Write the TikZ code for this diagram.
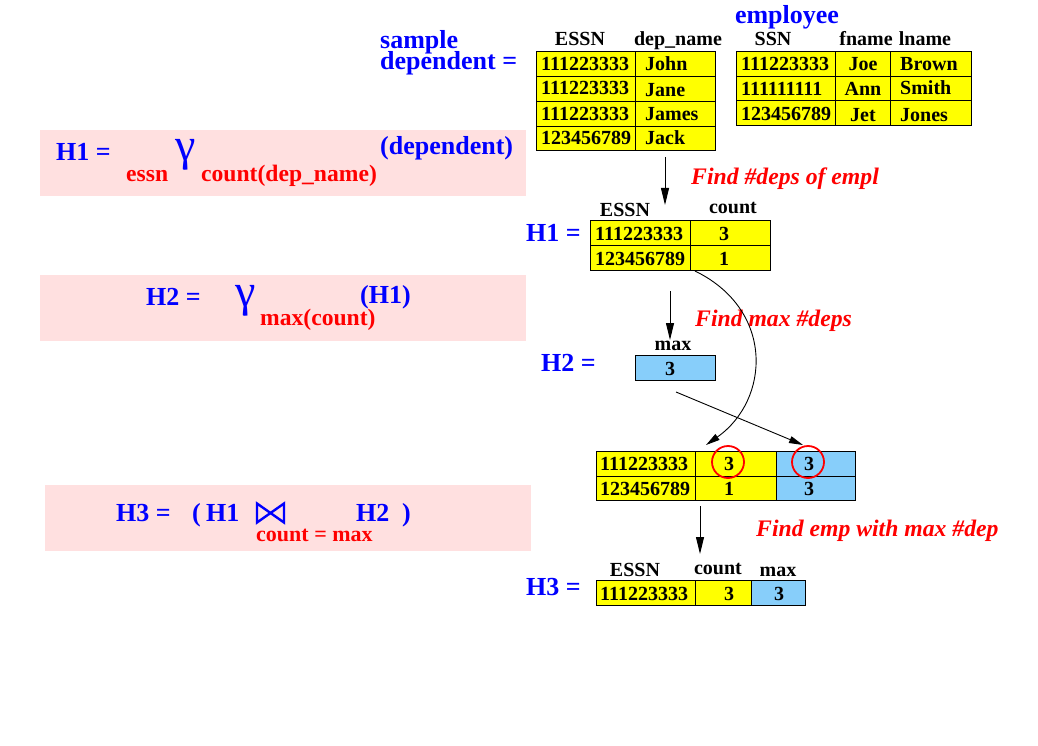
\documentclass[tikz,border=0pt]{standalone}
\usepackage{fontspec}
\setmainfont{Liberation Serif}
\usetikzlibrary{arrows.meta}
\definecolor{cellyellow}{RGB}{255,255,0}
\definecolor{cellblue}{RGB}{135,206,250}
\definecolor{boxpink}{RGB}{255,224,224}
\definecolor{txtblue}{RGB}{0,0,255}
\definecolor{txtred}{RGB}{255,0,0}
\newcommand\fsz[1]{\fontsize{#1}{#1}\selectfont}
\begin{document}
\begin{tikzpicture}[x=1pt,y=-1pt,
 cellY/.style={draw=black, line width=1pt, fill=cellyellow, inner sep=0pt, anchor=north west},
 cellB/.style={cellY, fill=cellblue},
 tab/.style={font=\fsz{20}\bfseries, inner sep=0pt},
 bl/.style={font=\fsz{26}\bfseries, text=txtblue, inner sep=0pt, anchor=base west},
 rd/.style={font=\fsz{23.6}\bfseries, text=txtred, inner sep=0pt, anchor=base west},
 note/.style={font=\fsz{23.7}\bfseries\itshape, text=txtred, inner sep=0pt, anchor=base west},
 gam/.style={font=\fsz{46}, text=txtblue, inner sep=0pt, anchor=base west},
 pinkbox/.style={fill=boxpink, draw=none, inner sep=0pt, anchor=north west},
 arr/.style={-{Triangle[length=17pt,width=8pt]}, line width=0.9pt},
 arrs/.style={-{Triangle[length=14pt,width=7pt]}, line width=0.9pt},
 ring/.style={draw=txtred, line width=1.8pt, circle, minimum size=32pt, inner sep=0pt},
 joinsym/.style={draw=txtblue, line width=2.4pt, line join=miter}
]
\useasboundingbox (0,0) rectangle (1038,746);
\fill[white] (0,0) rectangle (1038,746);

% pink boxes
\node[pinkbox, minimum width=486pt, minimum height=66pt] (p1) at (40,130) {};
\node[pinkbox, minimum width=486pt, minimum height=66pt] (p2) at (40,275) {};
\node[pinkbox, minimum width=486pt, minimum height=66pt] (p3) at (45,485) {};

% box 1
\node[bl] (b1a) at (56,161) {H1 =};
\node[rd] (b1b) at (126,181.7) {essn};
\node[gam] (b1g) at (175,161) {γ};
\node[rd] (b1c) at (201,181.7) {count(dep\_name)};
\node[bl] (b1d) at (380,155) {(dependent)};

% box 2
\node[bl] (b2a) at (146,305) {H2 =};
\node[gam] (b2g) at (235,306) {γ};
\node[rd] (b2c) at (260,325) {max(count)};
\node[bl] (b2d) at (360,303) {(H1)};

% box 3
\node[bl] (b3a) at (116,521) {H3 =};
\node[bl] (b3b) at (192,521) {(};
\node[bl] (b3c) at (206,521) {H1};
\coordinate (bt) at (270.5,513);
\draw[joinsym] ([shift={(-13.5,-9.5)}]bt) -- ([shift={(13.5,9.5)}]bt) -- ([shift={(13.5,-9.5)}]bt) -- ([shift={(-13.5,9.5)}]bt) -- cycle;
\node[bl] (b3d) at (356,521) {H2};
\node[bl] (b3e) at (402,521) {)};
\node[rd, font=\fsz{22}\bfseries] (b3f) at (256,541) {count = max};

% sample dependent
\node[bl] (sd1) at (380,49) {sample};
\node[bl] (sd2) at (380,70) {dependent =};
\node[bl, anchor=base] (emp) at (787,24) {employee};

% dependent table
\node[tab, anchor=base] (h1) at (580,45.7) {ESSN};
\node[tab, anchor=base] (h2) at (678,45.7) {dep\_name};
\node[cellY, minimum width=99pt, minimum height=25pt] (d1a) at (536,51) {};
\node[cellY, minimum width=80pt, minimum height=25pt] (d1b) at (635,51) {};
\node[cellY, minimum width=99pt, minimum height=25pt] (d2a) at (536,76) {};
\node[cellY, minimum width=80pt, minimum height=25pt] (d2b) at (635,76) {};
\node[cellY, minimum width=99pt, minimum height=25pt] (d3a) at (536,101) {};
\node[cellY, minimum width=80pt, minimum height=25pt] (d3b) at (635,101) {};
\node[cellY, minimum width=99pt, minimum height=24pt] (d4a) at (536,126) {};
\node[cellY, minimum width=80pt, minimum height=24pt] (d4b) at (635,126) {};
\node[tab, anchor=base west] (dt1a) at (541,70.7) {111223333};
\node[tab, anchor=base west] (dt1b) at (645,70.7) {John};
\node[tab, anchor=base west] (dt2a) at (541,94.5) {111223333};
\node[tab, anchor=base west] (dt2b) at (645,96.5) {Jane};
\node[tab, anchor=base west] (dt3a) at (541,120.7) {111223333};
\node[tab, anchor=base west] (dt3b) at (645,120.7) {James};
\node[tab, anchor=base west] (dt4a) at (541,144.5) {123456789};
\node[tab, anchor=base west] (dt4b) at (645,144.5) {Jack};

% employee table
\node[tab, anchor=base] (eh1) at (773,45.7) {SSN};
\node[tab, anchor=base] (eh2) at (866,45.7) {fname};
\node[tab, anchor=base] (eh3) at (925,45.7) {lname};
\node[cellY, minimum width=99pt, minimum height=25pt] (e1a) at (736,51) {};
\node[cellY, minimum width=55pt, minimum height=25pt] (e1b) at (835,51) {};
\node[cellY, minimum width=81pt, minimum height=25pt] (e1c) at (890,51) {};
\node[cellY, minimum width=99pt, minimum height=24pt] (e2a) at (736,76) {};
\node[cellY, minimum width=55pt, minimum height=24pt] (e2b) at (835,76) {};
\node[cellY, minimum width=81pt, minimum height=24pt] (e2c) at (890,76) {};
\node[cellY, minimum width=99pt, minimum height=25pt] (e3a) at (736,100) {};
\node[cellY, minimum width=55pt, minimum height=25pt] (e3b) at (835,100) {};
\node[cellY, minimum width=81pt, minimum height=25pt] (e3c) at (890,100) {};
\node[tab, anchor=base west] (et1a) at (741,70.7) {111223333};
\node[tab, anchor=base] (et1b) at (863,70.7) {Joe};
\node[tab, anchor=base west] (et1c) at (900,70.7) {Brown};
\node[tab, anchor=base west] (et2a) at (741,95.5) {111111111};
\node[tab, anchor=base] (et2b) at (863,95.5) {Ann};
\node[tab, anchor=base west] (et2c) at (900,94.3) {Smith};
\node[tab, anchor=base west] (et3a) at (741,120.7) {123456789};
\node[tab, anchor=base] (et3b) at (863,121.5) {Jet};
\node[tab, anchor=base west] (et3c) at (900,121.5) {Jones};

% H1 table
\node[bl] (lh1) at (526,241.7) {H1 =};
\node[tab, anchor=base] (g1h1) at (625,216) {ESSN};
\node[tab, anchor=base] (g1h2) at (733,214) {count};
\node[cellY, minimum width=100pt, minimum height=25pt] (g11a) at (590,220) {};
\node[cellY, minimum width=80pt, minimum height=25pt] (g11b) at (690,220) {};
\node[cellY, minimum width=100pt, minimum height=25pt] (g12a) at (590,245) {};
\node[cellY, minimum width=80pt, minimum height=25pt] (g12b) at (690,245) {};
\node[tab, anchor=base west] (gt1a) at (595,240.7) {111223333};
\node[tab, anchor=base] (gt1b) at (724,240.7) {3};
\node[tab, anchor=base west] (gt2a) at (595,265) {123456789};
\node[tab, anchor=base] (gt2b) at (724,265) {1};

% H2 table
\node[bl] (lh2) at (541,371.7) {H2 =};
\node[tab, anchor=base] (m1h) at (673,350.7) {max};
\node[cellB, minimum width=80pt, minimum height=25pt] (m1) at (635,355) {};
\node[tab, anchor=base] (mt1) at (670,375.7) {3};

% join table
\node[cellY, minimum width=99pt, minimum height=25pt] (j1a) at (596,451) {};
\node[cellY, minimum width=81pt, minimum height=25pt] (j1b) at (695,451) {};
\node[cellB, minimum width=79pt, minimum height=25pt] (j1c) at (776,451) {};
\node[cellY, minimum width=99pt, minimum height=24pt] (j2a) at (596,476) {};
\node[cellY, minimum width=81pt, minimum height=24pt] (j2b) at (695,476) {};
\node[cellB, minimum width=79pt, minimum height=24pt] (j2c) at (776,476) {};
\node[tab, anchor=base west] (jt1a) at (600,470.7) {111223333};
\node[tab, anchor=base] (jt1b) at (729,470.7) {3};
\node[tab, anchor=base] (jt1c) at (809,470.7) {3};
\node[tab, anchor=base west] (jt2a) at (600,495) {123456789};
\node[tab, anchor=base] (jt2b) at (729,495) {1};
\node[tab, anchor=base] (jt2c) at (809,495) {3};
\node[ring] (r1) at (728,462) {};
\node[ring] (r2) at (808,462) {};

% H3 table
\node[bl] (lh3) at (526,595) {H3 =};
\node[tab, anchor=base] (k1h1) at (635,576) {ESSN};
\node[tab, anchor=base] (k1h2) at (718,574) {count};
\node[tab, anchor=base] (k1h3) at (778,576) {max};
\node[cellY, minimum width=99pt, minimum height=25pt] (k1a) at (596,580) {};
\node[cellY, minimum width=56pt, minimum height=25pt] (k1b) at (695,580) {};
\node[cellB, minimum width=54pt, minimum height=25pt] (k1c) at (751,580) {};
\node[tab, anchor=base west] (kt1a) at (600,600) {111223333};
\node[tab, anchor=base] (kt1b) at (729,600) {3};
\node[tab, anchor=base] (kt1c) at (779,600) {3};

% notes
\node[note] (n1) at (691,185) {Find \#deps of empl};
\node[note] (n2) at (695,326) {Find max \#deps};
\node[note] (n3) at (756,536) {Find emp with max \#dep};

% arrows
\coordinate (a1s) at (665,157); \coordinate (a1e) at (665,205);
\coordinate (a2s) at (670,291); \coordinate (a2e) at (670,340);
\coordinate (a3s) at (700,506); \coordinate (a3e) at (700,554);
\coordinate (cs) at (695,271); \coordinate (ce) at (706,445);
\coordinate (ds) at (676,392); \coordinate (de) at (803,445);
\draw[arr] (a1s) -- (a1e);
\draw[arr] (a2s) -- (a2e);
\draw[arr] (a3s) -- (a3e);
\draw[arrs] (cs) .. controls (775,310) and (770,400) .. (ce);
\draw[arrs] (ds) -- (de);
\end{tikzpicture}
\end{document}
